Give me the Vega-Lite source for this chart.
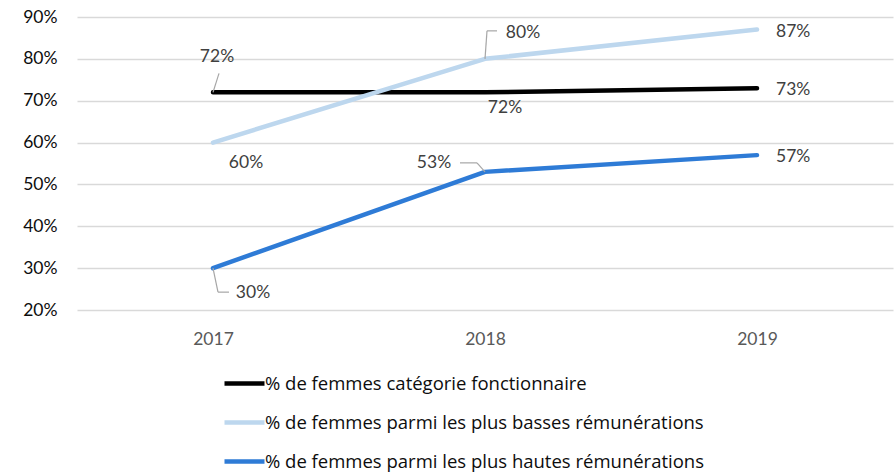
{
  "$schema": "https://vega.github.io/schema/vega-lite/v6.json",
  "width": 816,
  "height": 293,
  "padding": {"left": 77, "top": 17, "right": 2, "bottom": 165},
  "autosize": {"type": "none"},
  "background": "white",
  "config": {
    "view": {"stroke": null},
    "font": "Lato",
    "axis": {"labelFont": "Lato"},
    "text": {"font": "Lato"}
  },
  "data": {
    "values": [
      {"year": "2017", "series": "% de femmes catégorie fonctionnaire", "value": 0.72},
      {"year": "2018", "series": "% de femmes catégorie fonctionnaire", "value": 0.72},
      {"year": "2019", "series": "% de femmes catégorie fonctionnaire", "value": 0.73},
      {"year": "2017", "series": "% de femmes parmi les plus basses rémunérations", "value": 0.60},
      {"year": "2018", "series": "% de femmes parmi les plus basses rémunérations", "value": 0.80},
      {"year": "2019", "series": "% de femmes parmi les plus basses rémunérations", "value": 0.87},
      {"year": "2017", "series": "% de femmes parmi les plus hautes rémunérations", "value": 0.30},
      {"year": "2018", "series": "% de femmes parmi les plus hautes rémunérations", "value": 0.53},
      {"year": "2019", "series": "% de femmes parmi les plus hautes rémunérations", "value": 0.57}
    ]
  },
  "encoding": {
    "x": {
      "field": "year", "type": "ordinal",
      "scale": {"type": "point", "padding": 0.5},
      "axis": {"title": null, "labelAngle": 0, "domain": false, "ticks": false, "tickSize": 0, "labelPadding": 20, "labelFontSize": 17.5, "labelColor": "#595959", "grid": false}
    },
    "y": {
      "field": "value", "type": "quantitative",
      "scale": {"domain": [0.2, 0.9], "nice": false, "zero": false},
      "axis": {"title": null, "values": [0.2, 0.3, 0.4, 0.5, 0.6, 0.7, 0.8, 0.9], "format": ".0%", "domain": false, "ticks": false, "tickSize": 0, "labelPadding": 20, "labelFontSize": 17.5, "labelColor": "#0d0d0d", "gridColor": "#d9d9d9", "gridWidth": 1.3}
    }
  },
  "layer": [
    {
      "mark": {"type": "line", "strokeWidth": 4.5, "strokeCap": "round", "strokeJoin": "round"},
      "encoding": {
        "color": {
          "field": "series", "type": "nominal",
          "scale": {
            "domain": ["% de femmes catégorie fonctionnaire", "% de femmes parmi les plus basses rémunérations", "% de femmes parmi les plus hautes rémunérations"],
            "range": ["#000000", "#bdd7ee", "#2e7bd6"]
          },
          "legend": {
            "title": null, "orient": "none", "legendX": 145, "legendY": 344,
            "direction": "vertical", "symbolType": "stroke", "symbolSize": 1600, "symbolStrokeWidth": 4.5,
            "labelFontSize": 18.5, "labelColor": "#0d0d0d", "labelOffset": -2, "rowPadding": 7, "labelFont": "Open Sans", "labelLimit": 0
          }
        }
      }
    },
    {"transform": [{"filter": "datum.year == '2017' && datum.value == 0.72"}],
     "mark": {"type": "rule", "stroke": "#a6a6a6", "strokeWidth": 1.2, "x2Offset": 6, "y2Offset": -19},
     "encoding": {"x2": {"field": "year"}, "y2": {"field": "value"}}},
    {"transform": [{"filter": "datum.year == '2017' && datum.value == 0.3"}],
     "mark": {"type": "rule", "stroke": "#a6a6a6", "strokeWidth": 1.2, "x2Offset": 5, "y2Offset": 24},
     "encoding": {"x2": {"field": "year"}, "y2": {"field": "value"}}},
    {"transform": [{"filter": "datum.year == '2017' && datum.value == 0.3"}],
     "mark": {"type": "rule", "stroke": "#a6a6a6", "strokeWidth": 1.2, "xOffset": 5, "yOffset": 24, "x2Offset": 16, "y2Offset": 24},
     "encoding": {"x2": {"field": "year"}, "y2": {"field": "value"}}},
    {"transform": [{"filter": "datum.year == '2018' && datum.value == 0.8"}],
     "mark": {"type": "rule", "stroke": "#a6a6a6", "strokeWidth": 1.2, "x2Offset": 2, "y2Offset": -28},
     "encoding": {"x2": {"field": "year"}, "y2": {"field": "value"}}},
    {"transform": [{"filter": "datum.year == '2018' && datum.value == 0.8"}],
     "mark": {"type": "rule", "stroke": "#a6a6a6", "strokeWidth": 1.2, "xOffset": 2, "yOffset": -28, "x2Offset": 12, "y2Offset": -28},
     "encoding": {"x2": {"field": "year"}, "y2": {"field": "value"}}},
    {"transform": [{"filter": "datum.year == '2018' && datum.value == 0.53"}],
     "mark": {"type": "rule", "stroke": "#a6a6a6", "strokeWidth": 1.2, "x2Offset": -8, "y2Offset": -9},
     "encoding": {"x2": {"field": "year"}, "y2": {"field": "value"}}},
    {"transform": [{"filter": "datum.year == '2018' && datum.value == 0.53"}],
     "mark": {"type": "rule", "stroke": "#a6a6a6", "strokeWidth": 1.2, "xOffset": -8, "yOffset": -9, "x2Offset": -25, "y2Offset": -9},
     "encoding": {"x2": {"field": "year"}, "y2": {"field": "value"}}},
    {"transform": [{"filter": "datum.year == '2019'"}],
     "mark": {"type": "text", "align": "left", "baseline": "middle", "dx": 19, "dy": 2, "fontSize": 17.5, "fill": "#404040"},
     "encoding": {"text": {"field": "value", "format": ".0%"}}},
    {"transform": [{"filter": "datum.year == '2017' && datum.value == 0.72"}],
     "mark": {"type": "text", "align": "center", "baseline": "middle", "dx": 4, "dy": -35, "fontSize": 17.5, "fill": "#404040"},
     "encoding": {"text": {"field": "value", "format": ".0%"}}},
    {"transform": [{"filter": "datum.year == '2017' && datum.value == 0.6"}],
     "mark": {"type": "text", "align": "center", "baseline": "middle", "dx": 33, "dy": 20, "fontSize": 17.5, "fill": "#404040"},
     "encoding": {"text": {"field": "value", "format": ".0%"}}},
    {"transform": [{"filter": "datum.year == '2017' && datum.value == 0.3"}],
     "mark": {"type": "text", "align": "center", "baseline": "middle", "dx": 40, "dy": 25, "fontSize": 17.5, "fill": "#404040"},
     "encoding": {"text": {"field": "value", "format": ".0%"}}},
    {"transform": [{"filter": "datum.year == '2018' && datum.value == 0.8"}],
     "mark": {"type": "text", "align": "center", "baseline": "middle", "dx": 38, "dy": -26, "fontSize": 17.5, "fill": "#404040"},
     "encoding": {"text": {"field": "value", "format": ".0%"}}},
    {"transform": [{"filter": "datum.year == '2018' && datum.value == 0.72"}],
     "mark": {"type": "text", "align": "center", "baseline": "middle", "dx": 20, "dy": 16, "fontSize": 17.5, "fill": "#404040"},
     "encoding": {"text": {"field": "value", "format": ".0%"}}},
    {"transform": [{"filter": "datum.year == '2018' && datum.value == 0.53"}],
     "mark": {"type": "text", "align": "center", "baseline": "middle", "dx": -51, "dy": -9, "fontSize": 17.5, "fill": "#404040"},
     "encoding": {"text": {"field": "value", "format": ".0%"}}}
  ]
}
